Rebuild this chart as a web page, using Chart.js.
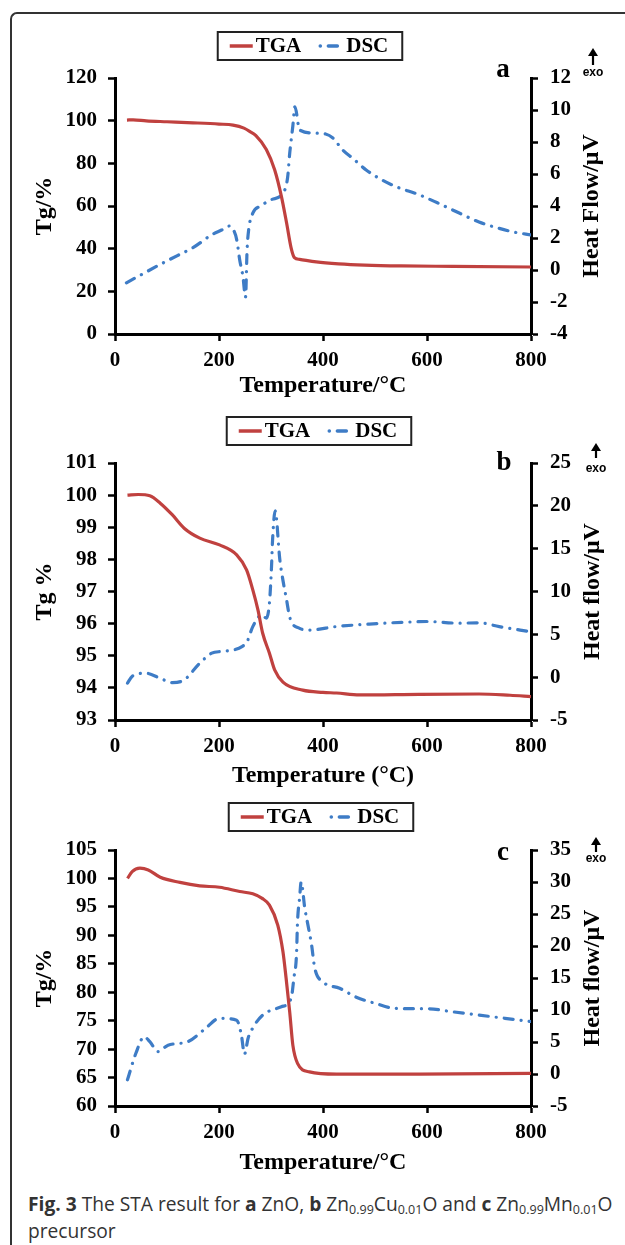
<!DOCTYPE html>
<html>
<head>
<meta charset="utf-8">
<script src="https://cdn.jsdelivr.net/npm/chart.js@4"></script>
<style>
  html, body { margin: 0; padding: 0; background: #fff; }
  body { width: 625px; height: 1245px; position: relative; overflow: hidden; }
  .frame { position: absolute; left: 10px; top: 12px; width: 640px; height: 1240px;
           border-left: 2px solid #333; border-top: 2px solid #333; border-top-left-radius: 7px; }
  canvas { position: absolute; left: 0; }
  #caption { position: absolute; left: 28px; top: 1190px; width: 597px; white-space: nowrap;
             font-family: "Open Sans", sans-serif; font-size: 19.2px; line-height: 27px; color: #333; }
  #caption b { font-weight: 700; }
  #caption sub { font-size: 12.5px; vertical-align: -3px; line-height: 0; }
</style>
</head>
<body>
<div class="frame"></div>
<canvas id="chartA" width="625" height="380" style="top:20px"></canvas>
<canvas id="chartB" width="625" height="390" style="top:400px"></canvas>
<canvas id="chartC" width="625" height="395" style="top:790px"></canvas>
<div id="caption"><b>Fig. 3</b> The STA result for <b>a</b> ZnO, <b>b</b> Zn<sub>0.99</sub>Cu<sub>0.01</sub>O and <b>c</b> Zn<sub>0.99</sub>Mn<sub>0.01</sub>O<br>precursor</div>
<script>
// panel a: ZnO
const tgaTempA = [23, 35, 60, 100, 150, 200, 227, 248, 259, 271, 291, 307, 320, 330, 339, 345, 355, 387, 430, 480, 550, 650, 800];
const tgaA = [100.3, 100.4, 99.9, 99.5, 99.0, 98.4, 97.9, 96.5, 95.0, 93.0, 86.5, 77.0, 64.5, 52.0, 40.0, 35.8, 35.0, 33.8, 32.9, 32.3, 31.9, 31.7, 31.4];
const dscTempA = [22, 50, 87, 120, 150, 186, 205, 220, 228, 234, 240, 246, 251, 254, 257, 265, 280, 301, 323, 332, 336, 342, 346, 355, 387, 405, 419, 438, 460, 483, 515, 541, 585, 620, 662, 700, 739, 770, 800];
const dscA = [-0.8, -0.3, 0.35, 0.9, 1.4, 2.2, 2.5, 2.75, 2.5, 1.9, 0.6, -0.4, -1.7, 1.25, 2.5, 3.55, 4.0, 4.4, 4.8, 5.8, 7.3, 9.0, 10.2, 8.75, 8.55, 8.5, 8.25, 7.5, 6.9, 6.25, 5.6, 5.2, 4.7, 4.2, 3.56, 3.0, 2.6, 2.35, 2.2];

// panel b: Zn0.99Cu0.01O
const tgaTempB = [24, 45, 67, 87, 110, 133, 163, 201, 234, 253, 265, 275, 284, 297, 307, 323, 361, 400, 426, 470, 585, 700, 760, 800];
const tgaB = [100.0, 100.02, 99.98, 99.75, 99.39, 98.97, 98.66, 98.45, 98.14, 97.67, 97.05, 96.42, 95.7, 95.08, 94.56, 94.18, 93.93, 93.86, 93.84, 93.78, 93.8, 93.81, 93.77, 93.73];
const dscTempB = [24, 33, 60, 87, 110, 133, 163, 186, 205, 230, 245, 253, 265, 282, 291, 297, 301, 303, 308, 317, 323, 330, 336, 355, 374, 425, 489, 553, 600, 662, 700, 739, 800];
const dscB = [-0.7, 0.1, 0.46, -0.13, -0.63, -0.32, 1.63, 2.8, 3.0, 3.2, 3.6, 4.0, 5.9, 7.26, 6.9, 8.66, 12.9, 16.0, 19.4, 13.7, 11.3, 9.0, 7.0, 5.7, 5.5, 5.9, 6.2, 6.4, 6.5, 6.3, 6.35, 5.9, 5.3];

// panel c: Zn0.99Mn0.01O
const tgaTempC = [24, 33, 48, 64, 87, 125, 163, 201, 240, 265, 283, 297, 313, 323, 329, 336, 342, 351, 374, 426, 585, 800];
const tgaC = [100.0, 101.2, 101.8, 101.5, 100.2, 99.3, 98.7, 98.45, 97.7, 97.3, 96.5, 95.3, 91.8, 87.1, 82.5, 76.5, 70.7, 67.5, 66.0, 65.6, 65.6, 65.75];
const dscTempC = [24, 40, 56, 67, 83, 102, 140, 171, 201, 234, 243, 249, 256, 265, 284, 320, 339, 344, 349, 351, 355, 358, 365, 371, 378, 384, 400, 432, 464, 502, 534, 572, 600, 647, 700, 750, 800];
const dscC = [-0.9, 3.2, 5.8, 5.05, 3.5, 4.5, 5.05, 6.9, 8.7, 8.4, 6.1, 3.1, 5.6, 7.2, 9.2, 10.5, 11.9, 15.0, 18.6, 23.75, 27.5, 30.0, 25.9, 23.3, 20.2, 16.6, 14.4, 13.4, 12.0, 11.0, 10.3, 10.2, 10.2, 9.74, 9.2, 8.7, 8.2];

const RED = '#c0413f';
const BLUE = '#3e7cc6';
const serif = 'Liberation Serif';
const tickFont = { family: serif, size: 21, weight: 'bold' };
const titleFont = { family: serif, size: 24, weight: 'bold' };

function toXY(xs, ys) {
  return xs.map((x, i) => ({ x: x, y: ys[i] }));
}

// legend drawn as a framed box, like the original figure
const boxLegend = {
  id: 'boxLegend',
  afterDraw(chart, args, o) {
    const ctx = chart.ctx;
    ctx.save();
    ctx.font = 'bold 21px "' + serif + '"';
    const sets = chart.data.datasets;
    const widths = sets.map(ds => ctx.measureText(ds.label).width);
    let total = o.padL + o.padR + o.itemGap * (sets.length - 1);
    widths.forEach(w => { total += o.sample + o.gap + w; });
    let x = o.cx - total / 2;
    ctx.strokeStyle = '#222';
    ctx.lineWidth = 2;
    ctx.strokeRect(x, o.top, total, o.height);
    x += o.padL;
    const cy = o.top + o.height / 2;
    sets.forEach((ds, i) => {
      ctx.beginPath();
      ctx.strokeStyle = ds.borderColor;
      ctx.lineWidth = 3.5;
      ctx.lineCap = ds.borderDash ? 'round' : 'butt';
      ctx.setLineDash(ds.borderDash || []);
      ctx.lineDashOffset = ds.borderDash ? 17 : 0;
      ctx.moveTo(x, cy);
      ctx.lineTo(x + o.sample, cy);
      ctx.stroke();
      ctx.setLineDash([]);
      ctx.fillStyle = '#000';
      ctx.textAlign = 'left';
      ctx.textBaseline = 'middle';
      ctx.fillText(ds.label, x + o.sample + o.gap, cy + 1);
      x += o.sample + o.gap + widths[i] + o.itemGap;
    });
    ctx.restore();
  }
};

// right axis title (reads upward), panel letter and the exo arrow
const decor = {
  id: 'decor',
  afterDraw(chart, args, o) {
    const ctx = chart.ctx;
    const area = chart.chartArea;
    ctx.save();
    ctx.fillStyle = '#000';
    ctx.font = 'bold 24px "' + serif + '"';
    ctx.textAlign = 'center';
    ctx.textBaseline = 'middle';
    ctx.translate(o.rightTitleX, (area.top + area.bottom) / 2);
    ctx.rotate(-Math.PI / 2);
    ctx.fillText(o.rightTitle, 0, 0);
    ctx.restore();

    ctx.save();
    ctx.fillStyle = '#000';
    ctx.font = 'bold 27px "' + serif + '"';
    ctx.textAlign = 'center';
    ctx.textBaseline = 'alphabetic';
    ctx.fillText(o.letter, o.letterX, o.letterY);

    ctx.strokeStyle = '#000';
    ctx.lineWidth = 2.2;
    ctx.beginPath();
    ctx.moveTo(o.arrowX, o.arrowBottom);
    ctx.lineTo(o.arrowX, o.arrowTop + 5);
    ctx.stroke();
    ctx.beginPath();
    ctx.moveTo(o.arrowX, o.arrowTop);
    ctx.lineTo(o.arrowX - 5, o.arrowTop + 8);
    ctx.lineTo(o.arrowX + 5, o.arrowTop + 8);
    ctx.closePath();
    ctx.fill();
    ctx.font = 'bold 12px "Liberation Sans"';
    ctx.textBaseline = 'middle';
    ctx.fillText('exo', o.arrowX, o.exoY);
    ctx.restore();
  }
};

function makePanel(id, p) {
  const grid = { drawOnChartArea: false, drawTicks: true, tickLength: 7, tickWidth: 2.5, tickColor: '#000' };
  const border = { display: true, color: '#000', width: 3 };
  return new Chart(document.getElementById(id), {
    type: 'line',
    data: {
      datasets: [
        { label: 'TGA', data: toXY(p.tgaT, p.tga), yAxisID: 'y', borderColor: RED, borderWidth: 3.2,
          pointRadius: 0, cubicInterpolationMode: 'monotone' },
        { label: 'DSC', data: toXY(p.dscT, p.dsc), yAxisID: 'y1', borderColor: BLUE, borderWidth: 3.2,
          borderDash: [9, 8, 0.1, 8], borderCapStyle: 'round', pointRadius: 0, cubicInterpolationMode: 'monotone' }
      ]
    },
    options: {
      responsive: false,
      animation: false,
      events: [],
      layout: { padding: { top: p.top, left: 0, right: 0, bottom: 0 } },
      plugins: {
        legend: { display: false },
        tooltip: { enabled: false },
        boxLegend: { cx: p.legendX, top: p.legendTop, height: 28, padL: 12, padR: 14, sample: 23, gap: 3, itemGap: 19 },
        decor: p.decor
      },
      scales: {
        x: {
          type: 'linear', position: 'bottom', min: 0, max: 800,
          ticks: { stepSize: 200, color: '#000', font: tickFont, padding: 7, maxRotation: 0 },
          grid: grid, border: border,
          title: { display: true, text: p.xTitle, color: '#000', font: titleFont, padding: { top: 0, bottom: p.xTitlePad } },
          afterFit: s => { s.height = p.xH; }
        },
        y: {
          position: 'left', min: p.yMin, max: p.yMax,
          ticks: { stepSize: p.yStep, color: '#000', font: tickFont, padding: 11 },
          grid: grid, border: border,
          title: { display: true, text: p.yTitle, color: '#000', font: titleFont, padding: { top: 30, bottom: 0 } },
          afterFit: s => { s.width = 115; }
        },
        y1: {
          position: 'right', min: p.y1Min, max: p.y1Max,
          ticks: { stepSize: p.y1Step, color: '#000', font: tickFont, padding: 12 },
          grid: grid, border: border,
          afterFit: s => { s.width = 94; }
        }
      }
    },
    plugins: [boxLegend, decor]
  });
}

makePanel('chartA', {
  tgaT: tgaTempA, tga: tgaA, dscT: dscTempA, dsc: dscA,
  top: 58, xH: 66, xTitlePad: 0,
  yMin: 0, yMax: 120, yStep: 20, y1Min: -4, y1Max: 12, y1Step: 2,
  xTitle: 'Temperature/°C', yTitle: 'Tg/%',
  legendX: 310, legendTop: 12,
  decor: { rightTitle: 'Heat Flow/μV', rightTitleX: 592, letter: 'a', letterX: 503, letterY: 57,
           arrowX: 593, arrowTop: 28, arrowBottom: 45, exoY: 53 }
});

makePanel('chartB', {
  tgaT: tgaTempB, tga: tgaB, dscT: dscTempB, dsc: dscB,
  top: 63, xH: 70, xTitlePad: 0,
  yMin: 93, yMax: 101, yStep: 1, y1Min: -5, y1Max: 25, y1Step: 5,
  xTitle: 'Temperature (°C)', yTitle: 'Tg %',
  legendX: 319, legendTop: 17,
  decor: { rightTitle: 'Heat flow/μV', rightTitleX: 593, letter: 'b', letterX: 504, letterY: 70,
           arrowX: 596, arrowTop: 43, arrowBottom: 58, exoY: 69 }
});

makePanel('chartC', {
  tgaT: tgaTempC, tga: tgaC, dscT: dscTempC, dsc: dscC,
  top: 60, xH: 79, xTitlePad: 8,
  yMin: 60, yMax: 105, yStep: 5, y1Min: -5, y1Max: 35, y1Step: 5,
  xTitle: 'Temperature/°C', yTitle: 'Tg/%',
  legendX: 321, legendTop: 13,
  decor: { rightTitle: 'Heat flow/μV', rightTitleX: 593, letter: 'c', letterX: 503, letterY: 70,
           arrowX: 596, arrowTop: 47, arrowBottom: 62, exoY: 69 }
});
</script>
</body>
</html>
